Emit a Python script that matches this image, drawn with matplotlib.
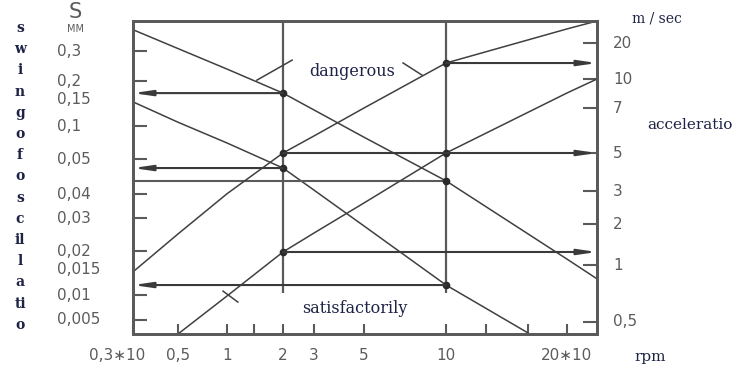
import numpy as np
import matplotlib.pyplot as plt

# rotation speed (rpm x10) where the curves were read
rpm = [0.3, 0.5, 1, 2, 3, 5, 10, 20, 24]
rpm_lo = [0.3, 0.5, 1, 2, 3, 5, 10, 16]
rpm_acc_lo = [0.5, 1, 2, 3, 5, 10, 20, 24]

# swing of oscillation, mm (left axis)
swing_hi = [0.40, 0.31, 0.235, 0.166, 0.128, 0.079, 0.0435, 0.0176, 0.0129]
swing_lo = [0.145, 0.106, 0.070, 0.0472, 0.0410, 0.0272, 0.0117, 0.0035]

# acceleration, m/sec (right axis)
acc_hi = [0.92, 1.69, 2.90, 5.0, 5.68, 7.0, 13.6, 26.2, 30.5]
acc_lo = [0.43, 0.686, 1.246, 1.717, 2.59, 5.0, 8.42, 10.0]

read_rpm = [2, 10]

x_ticks = [0.3, 0.5, 1, 2, 3, 5, 10, 20]
x_labels = ['0,3\u221710', '0,5', '1', '2', '3', '5', '10', '20\u221710']
x_minor = [1.4, 12.6, 16]

left_ticks = [0.3, 0.2, 0.1, 0.05, 0.04, 0.03, 0.02, 0.01, 0.005]
left_lab_vals = [0.3, 0.2, 0.15, 0.1, 0.05, 0.04, 0.03, 0.02, 0.015, 0.01, 0.005]
left_labels = ['0,3', '0,2', '0,15', '0,1', '0,05', '0,04', '0,03', '0,02', '0,015', '0,01', '0,005']

right_ticks = [20, 10, 7, 5, 3, 2, 1, 0.5]
right_labels = ['20', '10', '7', '5', '3', '2', '1', '0,5']

side_letters = ['s', 'w', 'i', 'n', 'g', 'o', 'f', 'o', 's', 'c', 'il', 'l', 'a', 'ti', 'o']

# the printed axes are hand drawn, not truly logarithmic: calibrate them
x_cal = [0.3, 0.5, 1, 2, 3, 5, 10, 20, 24]
x_cal_pos = [0, 45, 94, 150, 181, 231, 313, 434, 464]
yl_cal = [0.0034, 0.005, 0.01, 0.02, 0.03, 0.04, 0.05, 0.1, 0.2, 0.3, 0.45]
yl_cal_pos = [0, 14, 39, 83, 116, 140, 175, 208, 253, 283, 313]
yr_cal = [0.43, 0.5, 1, 2, 3, 5, 7, 10, 20, 30.5]
yr_cal_pos = [0, 12, 69, 110, 143, 181, 226, 255, 291, 313]


def cal_scale(vals, pos):
    lv = np.log10(vals)

    def fwd(v):
        v = np.clip(np.asarray(v, dtype=float), 1e-6, None)
        return np.interp(np.log10(v), lv, pos)

    def inv(p):
        return 10 ** np.interp(p, pos, lv)
    return fwd, inv


grey = '#5a5a5a'
ink = '#404040'
navy = '#1e2345'
txt = '#5c5c5c'

fig = plt.figure(figsize=(7.44, 3.69), dpi=100)
ax = fig.add_axes([133 / 744, 35 / 369, 464 / 744, 313 / 369])
ax.set_xscale('function', functions=cal_scale(x_cal, x_cal_pos))
ax.set_yscale('function', functions=cal_scale(yl_cal, yl_cal_pos))
ax.set_xlim(0.3, 24)
ax.set_ylim(0.0034, 0.45)
ax2 = ax.twinx()
ax2.set_yscale('function', functions=cal_scale(yr_cal, yr_cal_pos))
ax2.set_ylim(0.43, 30.5)

for a in (ax, ax2):
    for s in a.spines.values():
        s.set_color(grey)
        s.set_linewidth(2)

ax.set_xticks(x_ticks)
ax.set_xticks(x_minor, minor=True)
ax.set_yticks(left_ticks)
ax.yaxis.set_minor_locator(plt.NullLocator())
ax2.set_yticks(right_ticks)
ax2.yaxis.set_minor_locator(plt.NullLocator())
ax.tick_params(axis='x', which='both', direction='in', length=7, width=1.5,
               color=grey, labelbottom=False)
ax.tick_params(axis='y', direction='in', length=10, width=1.5, color=grey,
               labelleft=False)
ax2.tick_params(axis='y', direction='in', length=10, width=1.5, color=grey,
                labelright=False)

# tick labels
for v, s in zip(left_lab_vals, left_labels):
    ax.annotate(s, xy=(0, v), xycoords=ax.get_yaxis_transform(), xytext=(-76, 0),
                textcoords='offset pixels', ha='left', va='center', fontsize=11, color=txt)
for v, s in zip(right_ticks, right_labels):
    ax2.annotate(s, xy=(1, v), xycoords=ax2.get_yaxis_transform(), xytext=(16, 0),
                 textcoords='offset pixels', ha='left', va='center', fontsize=11, color=txt)
for i, (v, s) in enumerate(zip(x_ticks, x_labels)):
    ax.annotate(s, xy=(v, 0), xycoords=ax.get_xaxis_transform(),
                xytext=(12 if i == 0 else 0, -22), textcoords='offset pixels',
                ha='right' if i == 0 else 'center', va='center', fontsize=11, color=txt)

# curves
ax.plot(rpm, swing_hi, color=ink, lw=1.1)
ax.plot(rpm_lo, swing_lo, color=ink, lw=1.1)
ax2.plot(rpm, acc_hi, color=ink, lw=1.1)
ax2.plot(rpm_acc_lo, acc_lo, color=ink, lw=1.1)

# reading lines
ax.vlines(read_rpm, 0.0103, 0.45, color=grey, lw=1.6)
arrow = dict(arrowstyle='-|>,head_length=1.1,head_width=0.16', color='#3a3a3a',
             lw=1.5, mutation_scale=10, shrinkA=0, shrinkB=0)
s_hi = [swing_hi[rpm.index(r)] for r in read_rpm]
s_lo = [swing_lo[rpm_lo.index(r)] for r in read_rpm]
a_hi = [acc_hi[rpm.index(r)] for r in read_rpm]
a_lo = [acc_lo[rpm_acc_lo.index(r)] for r in read_rpm]

ax.annotate('', xy=(0.3, s_hi[0]), xytext=(read_rpm[0], s_hi[0]), arrowprops=arrow)
ax.annotate('', xy=(0.3, s_lo[0]), xytext=(read_rpm[0], s_lo[0]), arrowprops=arrow)
ax.hlines(s_hi[1], 0.3, read_rpm[1], color=grey, lw=1.5)
ax.annotate('', xy=(0.3, s_lo[1]), xytext=(read_rpm[1], s_lo[1]), arrowprops=arrow)
ax2.annotate('', xy=(24, a_hi[0]), xytext=(read_rpm[0], a_hi[0]), arrowprops=arrow)
ax2.annotate('', xy=(24, a_hi[1]), xytext=(read_rpm[1], a_hi[1]), arrowprops=arrow)
ax2.annotate('', xy=(24, a_lo[0]), xytext=(read_rpm[0], a_lo[0]), arrowprops=arrow)

ax.plot(read_rpm * 2, s_hi + s_lo, 'o', color='#2a2a2a', ms=4.5)
ax2.plot(read_rpm * 2, a_hi + a_lo, 'o', color='#2a2a2a', ms=4.5)

# zone labels
ax.text(0.472, 0.840, 'dangerous', transform=ax.transAxes, ha='center', va='center',
        fontsize=11.5, family='DejaVu Serif', color=navy)
ax.text(0.478, 0.083, 'satisfactorily', transform=ax.transAxes, ha='center', va='center',
        fontsize=11.5, family='DejaVu Serif', color=navy)
for (x0, y0), (x1, y1) in [((0.267, 0.811), (0.343, 0.875)),
                           ((0.582, 0.866), (0.623, 0.827)),
                           ((0.194, 0.137), (0.226, 0.102))]:
    ax.plot([x0, x1], [y0, y1], color=ink, lw=1.1, transform=ax.transAxes)

# outer texts
fig.text(75 / 744, 1 - 12 / 369, 'S', ha='center', va='center', fontsize=15, color=txt)
fig.text(75 / 744, 1 - 29 / 369, 'MM', ha='center', va='center', fontsize=7, color=txt)
fig.text(657 / 744, 1 - 18 / 369, 'm / sec', ha='center', va='center', fontsize=10,
         family='DejaVu Serif', color=navy)
fig.text(690 / 744, 1 - 125 / 369, 'acceleratio', ha='center', va='center', fontsize=11,
         family='DejaVu Serif', color=navy)
fig.text(650 / 744, 1 - 357 / 369, 'rpm', ha='center', va='center', fontsize=11,
         family='DejaVu Serif', color=navy)
for i, ch in enumerate(side_letters):
    fig.text(20 / 744, 1 - (28 + 21.2 * i) / 369, ch, ha='center', va='center',
             fontsize=10, family='DejaVu Serif', fontweight='bold', color=navy)

fig.savefig('out.png', dpi=100)
